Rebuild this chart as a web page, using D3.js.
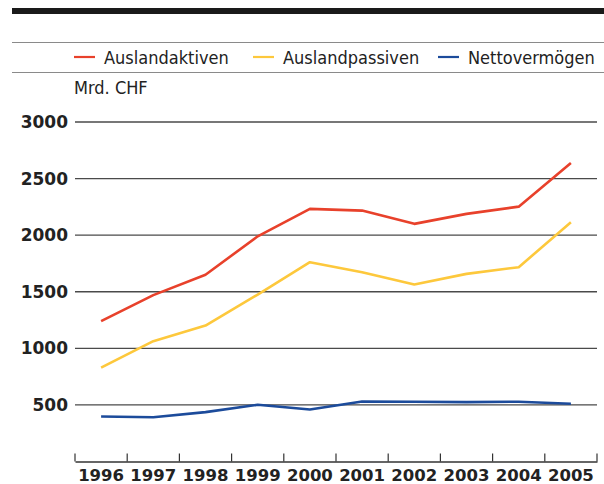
<!DOCTYPE html>
<html>
<head>
<meta charset="utf-8">
<script src="https://cdn.jsdelivr.net/npm/d3@7/dist/d3.min.js"></script>
<style>
  body { margin: 0; background: #fff; }
  svg { display: block; }
</style>
</head>
<body>
<div id="chart"></div>
<script>
// data (Mrd. CHF)
const years = ["1996", "1997", "1998", "1999", "2000", "2001", "2002", "2003", "2004", "2005"];
const auslandaktiven = [1240, 1470, 1650, 1990, 2232, 2217, 2100, 2188, 2252, 2638];
const auslandpassiven = [830, 1063, 1201, 1475, 1761, 1672, 1564, 1658, 1717, 2114];
const nettovermoegen = [397, 391, 436, 501, 459, 530, 528, 525, 528, 510];
const yTicks = [500, 1000, 1500, 2000, 2500, 3000];

const seriesNames = ["Auslandaktiven", "Auslandpassiven", "Nettovermögen"];
const seriesColors = ["#e8412b", "#fdc83c", "#1c4b9b"];

function setupChart() {
    const width = 604
    const height = 484

    let svg = d3.select("#chart")
        .append("svg")
        .attr("width", width)
        .attr("height", height)

    // top bar and legend rules
    svg.append("rect")
        .attr("x", 12).attr("y", 8)
        .attr("width", width - 12).attr("height", 6)
        .attr("fill", "#1a1a1a")
    svg.selectAll("rule")
        .data([42.5, 72.5])
        .enter()
        .append("line")
        .attr("x1", 12).attr("x2", width)
        .attr("y1", d => d).attr("y2", d => d)
        .attr("stroke", "#8a8a8a")
        .attr("stroke-width", 1.2)

    // legend
    const legendX = [74, 253, 438];
    let legend = svg.selectAll("legendItem")
        .data(seriesNames)
        .enter()
        .append("g")
        .attr("transform", (d, i) => "translate(" + legendX[i] + ",57)")
    legend.append("line")
        .attr("x1", 0).attr("x2", 21)
        .attr("stroke", (d, i) => seriesColors[i])
        .attr("stroke-width", 2.2)
    legend.append("text")
        .attr("x", 30)
        .attr("y", 6.5)
        .style("font-family", "DejaVu Sans Condensed, DejaVu Sans")
        .style("font-size", "18px")
        .attr("fill", "#222")
        .text(d => d)

    svg.append("text")
        .attr("x", 74).attr("y", 94)
        .style("font-family", "DejaVu Sans Condensed, DejaVu Sans")
        .style("font-size", "18px")
        .attr("fill", "#222")
        .text("Mrd. CHF")

    // scales
    let x = d3.scaleBand()
        .domain(years)
        .range([75, 597])
    let y = d3.scaleLinear()
        .domain([0, 3000])
        .range([461.5, 122])

    // grid lines + y labels
    svg.selectAll("grid")
        .data(yTicks)
        .enter()
        .append("line")
        .attr("x1", 75).attr("x2", 597)
        .attr("y1", d => y(d)).attr("y2", d => y(d))
        .attr("stroke", "#4a4a4a")
        .attr("stroke-width", 1.4)
    svg.selectAll("yLabel")
        .data(yTicks)
        .enter()
        .append("text")
        .attr("x", 68)
        .attr("y", d => y(d) + 6)
        .attr("text-anchor", "end")
        .style("font-family", "DejaVu Sans")
        .style("font-weight", "bold")
        .style("font-size", "17px")
        .attr("fill", "#222")
        .text(d => d)

    // x axis: ticks at band edges, labels centered
    let xAxis = d3.axisBottom(x).tickSize(0).tickPadding(0)
    let gx = svg.append("g")
        .attr("transform", "translate(0," + y(0) + ")")
        .call(xAxis)
    gx.select(".domain").attr("stroke", "#333").attr("stroke-width", 1.4)
    gx.selectAll("text")
        .attr("y", 19.5)
        .attr("dy", null)
        .style("font-family", "DejaVu Sans")
        .style("font-weight", "bold")
        .style("font-size", "16.5px")
        .attr("fill", "#222")
    let edges = years.map(d => x(d)).concat([x.range()[1]])
    svg.selectAll("xTick")
        .data(edges)
        .enter()
        .append("line")
        .attr("x1", d => d).attr("x2", d => d)
        .attr("y1", y(0) - 8).attr("y2", y(0))
        .attr("stroke", "#333")
        .attr("stroke-width", 1.2)

    // lines
    const allSeries = [auslandaktiven, auslandpassiven, nettovermoegen];
    let line = d3.line()
        .x((d, i) => x(years[i]) + x.bandwidth() / 2)
        .y(d => y(d))
    svg.selectAll("series")
        .data(allSeries)
        .enter()
        .append("path")
        .attr("d", line)
        .attr("fill", "none")
        .attr("stroke", (d, i) => seriesColors[i])
        .attr("stroke-width", 2.6)
        .attr("stroke-linejoin", "round")
}

setupChart();
</script>
</body>
</html>
